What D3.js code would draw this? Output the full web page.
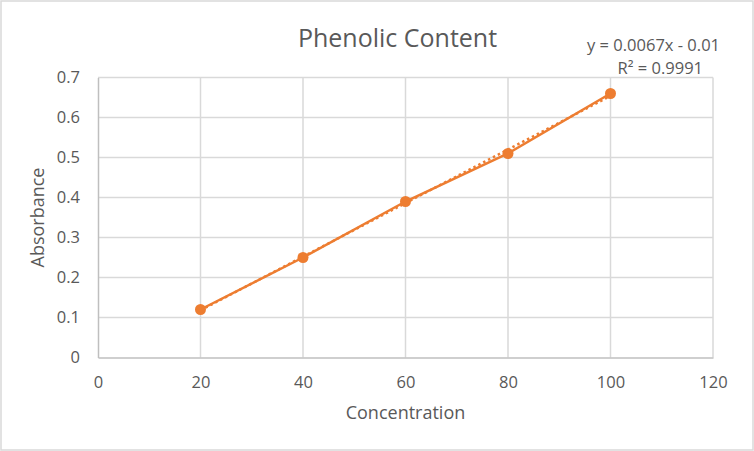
<!DOCTYPE html>
<html>
<head>
<meta charset="utf-8">
<script src="https://cdn.jsdelivr.net/npm/d3@7"></script>
<style>
    body { margin: 0; background: #fff; }
    svg text { font-family: "Open Sans", sans-serif; fill: #595959; }
</style>
</head>
<body>
<div id="chart"></div>
<script>
const concentration = [20, 40, 60, 80, 100];
const absorbance = [0.12, 0.25, 0.39, 0.51, 0.66];
const xTicks = [0, 20, 40, 60, 80, 100, 120];
const yTicks = [0, 0.1, 0.2, 0.3, 0.4, 0.5, 0.6, 0.7];
const equationText = 'y = 0.0067x - 0.01';
const r2Text = 'R² = 0.9991';

const width = 754, height = 451;
const margin = {top: 77.5, right: 41, bottom: 93.5, left: 98};
const orange = '#ED7D31';

const svg = d3.select('#chart')
    .append('svg')
    .attr('width', width)
    .attr('height', height);

// Chart border
svg.append('rect')
    .attr('x', 1).attr('y', 1)
    .attr('width', width - 2).attr('height', height - 2)
    .attr('fill', '#fff')
    .attr('stroke', '#d9d9d9')
    .attr('stroke-width', 1.5);

const x = d3.scaleLinear()
    .domain([0, 120])
    .range([margin.left, width - margin.right]);

const y = d3.scaleLinear()
    .domain([0, 0.7])
    .range([height - margin.bottom, margin.top]);

// Grid lines
svg.append('g')
    .selectAll('line')
    .data(yTicks.slice(1))
    .enter()
    .append('line')
    .attr('x1', x(0)).attr('x2', x(120))
    .attr('y1', d => y(d)).attr('y2', d => y(d))
    .attr('stroke', '#d9d9d9')
    .attr('stroke-width', 1.5);

svg.append('g')
    .selectAll('line')
    .data(xTicks.slice(1))
    .enter()
    .append('line')
    .attr('x1', d => x(d)).attr('x2', d => x(d))
    .attr('y1', y(0)).attr('y2', y(0.7))
    .attr('stroke', '#d9d9d9')
    .attr('stroke-width', 1.5);

// Y axis
svg.append('g')
    .attr('transform', `translate(${margin.left},0)`)
    .call(d3.axisLeft(y).tickValues(yTicks).tickFormat(d => d === 0 ? '0' : d3.format('.1f')(d)).tickSize(0).tickPadding(18))
    .call(g => g.select('.domain').attr('stroke', '#bfbfbf').attr('stroke-width', 1.5))
    .call(g => g.selectAll('text').attr('font-size', '16.5px').attr('fill', '#595959').attr('font-family', '"Open Sans", sans-serif'));

// X axis
svg.append('g')
    .attr('transform', `translate(0,${height - margin.bottom})`)
    .call(d3.axisBottom(x).tickValues(xTicks).tickFormat(d3.format('d')).tickSize(0).tickPadding(19))
    .call(g => g.select('.domain').attr('stroke', '#bfbfbf').attr('stroke-width', 1.5))
    .call(g => g.selectAll('text').attr('font-size', '16.5px').attr('fill', '#595959').attr('font-family', '"Open Sans", sans-serif'));

// Linear trendline (least squares from the data)
const mx = d3.mean(concentration), my = d3.mean(absorbance);
const slope = d3.sum(concentration, (c, i) => (c - mx) * (absorbance[i] - my)) /
    d3.sum(concentration, c => (c - mx) * (c - mx));
const intercept = my - slope * mx;
const xExtent = d3.extent(concentration);

svg.append('line')
    .attr('x1', x(xExtent[0])).attr('y1', y(slope * xExtent[0] + intercept))
    .attr('x2', x(xExtent[1])).attr('y2', y(slope * xExtent[1] + intercept))
    .attr('stroke', orange)
    .attr('stroke-width', 2.5)
    .attr('stroke-dasharray', '2.5,3');

// Data line
const points = concentration.map((c, i) => ({c, a: absorbance[i]}));
svg.append('path')
    .datum(points)
    .attr('fill', 'none')
    .attr('stroke', orange)
    .attr('stroke-width', 2.5)
    .attr('d', d3.line().x(d => x(d.c)).y(d => y(d.a)));

svg.selectAll('.dot')
    .data(points)
    .enter()
    .append('circle')
    .attr('class', 'dot')
    .attr('cx', d => x(d.c))
    .attr('cy', d => y(d.a))
    .attr('r', 5.5)
    .attr('fill', orange);

// Title
svg.append('text')
    .attr('x', 397.5).attr('y', 47)
    .attr('text-anchor', 'middle')
    .attr('font-size', '25px')
    .text('Phenolic Content');

// Axis titles
svg.append('text')
    .attr('x', (x(0) + x(120)) / 2).attr('y', 419)
    .attr('text-anchor', 'middle')
    .attr('font-size', '18px')
    .text('Concentration');

svg.append('text')
    .attr('transform', `translate(44,${(y(0) + y(0.7)) / 2}) rotate(-90)`)
    .attr('text-anchor', 'middle')
    .attr('font-size', '18px')
    .text('Absorbance');

// Trendline label
svg.append('text')
    .attr('x', 720).attr('y', 51)
    .attr('text-anchor', 'end')
    .attr('font-size', '16.5px')
    .text(equationText);

svg.append('text')
    .attr('x', 703).attr('y', 74)
    .attr('text-anchor', 'end')
    .attr('font-size', '16.5px')
    .text(r2Text);
</script>
</body>
</html>
